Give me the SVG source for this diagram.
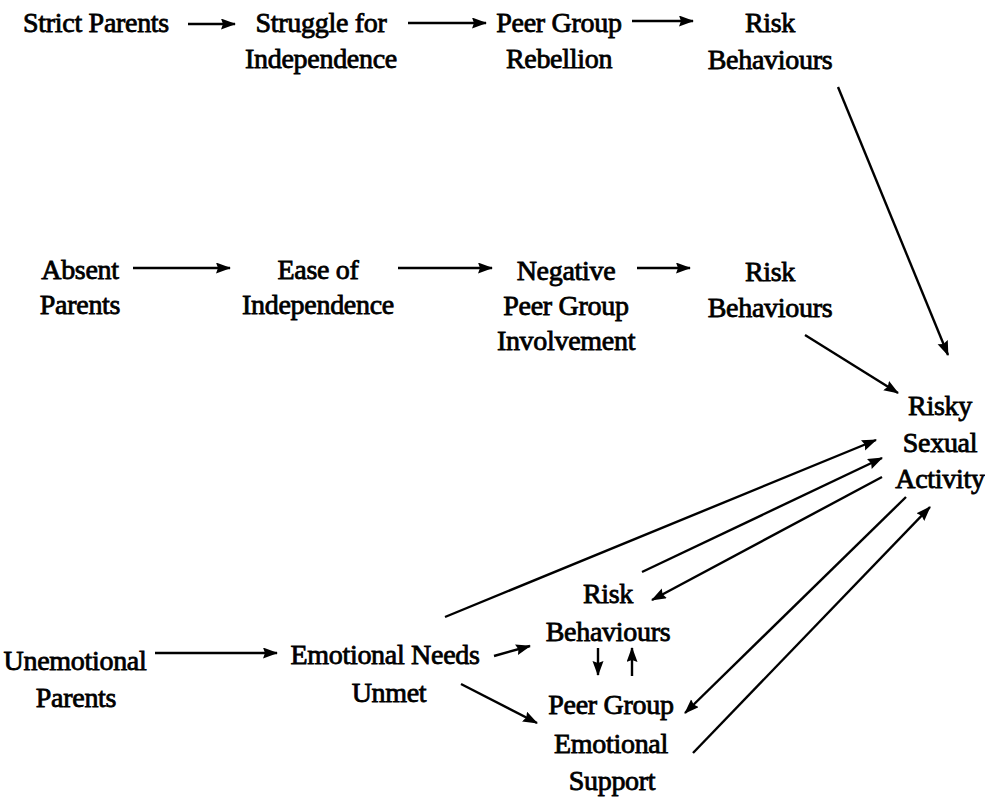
<svg xmlns="http://www.w3.org/2000/svg" width="985" height="798" viewBox="0 0 985 798">
<style>
text{font-family:"Liberation Serif","Times New Roman",serif;font-size:28px;fill:#000;text-anchor:middle;stroke:#000;stroke-width:0.8;letter-spacing:-0.3px}
.c line{stroke:#000;stroke-width:2.4;fill:none;marker-end:url(#ah)}
</style>
<defs>
<marker id="ah" markerUnits="userSpaceOnUse" markerWidth="16" markerHeight="12" refX="14" refY="5.5" orient="auto">
<path d="M0,0 L15,5.5 L0,11 L2,5.5 Z" fill="#000"/>
</marker>
</defs>
<rect width="985" height="798" fill="#fff"/>
<g id="strict"><text x="96" y="32">Strict Parents</text></g>
<g id="struggle"><text x="321" y="32">Struggle for</text><text x="321" y="68">Independence</text></g>
<g id="rebellion"><text x="559" y="32">Peer Group</text><text x="559" y="68">Rebellion</text></g>
<g id="risk1"><text x="770" y="32">Risk</text><text x="770" y="69">Behaviours</text></g>
<g id="absent"><text x="80" y="279">Absent</text><text x="80" y="314">Parents</text></g>
<g id="ease"><text x="318" y="279">Ease of</text><text x="318" y="314">Independence</text></g>
<g id="negative"><text x="566" y="280">Negative</text><text x="566" y="315">Peer Group</text><text x="566" y="350">Involvement</text></g>
<g id="risk2"><text x="770" y="281">Risk</text><text x="770" y="317">Behaviours</text></g>
<g id="risky"><text x="940" y="415">Risky</text><text x="940" y="452">Sexual</text><text x="940" y="488">Activity</text></g>
<g id="unemotional"><text x="75" y="670">Unemotional</text><text x="76" y="707">Parents</text></g>
<g id="needs"><text x="385" y="664">Emotional Needs</text><text x="389" y="702">Unmet</text></g>
<g id="risk3"><text x="608" y="603">Risk</text><text x="608" y="641">Behaviours</text></g>
<g id="peer3"><text x="611" y="714">Peer Group</text><text x="611" y="753">Emotional</text><text x="612" y="790">Support</text></g>
<g class="c" id="connectors">
<line x1="188" y1="24" x2="235" y2="24"/>
<line x1="408" y1="23" x2="486" y2="23"/>
<line x1="632" y1="21" x2="693" y2="21"/>
<line x1="133" y1="268" x2="230" y2="268"/>
<line x1="398" y1="268" x2="492" y2="268"/>
<line x1="637" y1="268" x2="690" y2="268"/>
<line x1="838" y1="87" x2="948" y2="355"/>
<line x1="805" y1="335" x2="898" y2="393"/>
<line x1="155" y1="653" x2="277" y2="653"/>
<line x1="445" y1="617" x2="876" y2="440"/>
<line x1="642" y1="572" x2="882" y2="458"/>
<line x1="882" y1="477" x2="652" y2="600"/>
<line x1="906" y1="497" x2="685" y2="713"/>
<line x1="693" y1="753" x2="930" y2="507"/>
<line x1="494" y1="656" x2="530" y2="646"/>
<line x1="461" y1="684" x2="537" y2="723"/>
<line x1="598" y1="648" x2="598" y2="675"/>
<line x1="632" y1="676" x2="632" y2="648"/>
</g>
</svg>
